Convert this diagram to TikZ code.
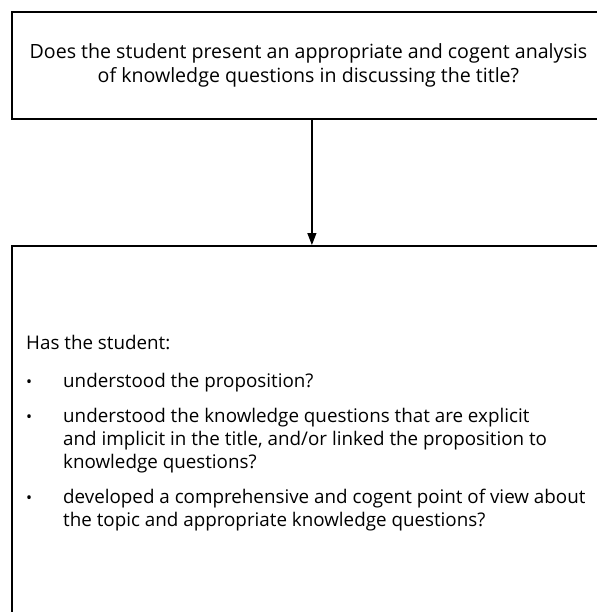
\documentclass[tikz,border=0pt]{standalone}
\usepackage{fontspec}
\setmainfont{Open Sans}
\usetikzlibrary{arrows.meta}
\tikzstyle{box} = [draw, line width=1.8pt, inner sep=0pt, minimum width=600pt]
\tikzstyle{arrow} = [-{Triangle[width=9pt,length=12pt]}, line width=1.2pt]
\tikzstyle{txt} = [font=\fontsize{19.6}{24.5}\selectfont]

\begin{document}
\begin{tikzpicture}[x=1pt,y=1pt]
	\useasboundingbox (0,0) rectangle (596,-612);
	\node[box, txt, align=center, minimum height=107pt, anchor=north west](question) at (11,-11){\hspace*{-7pt}Does the student present an appropriate and cogent analysis\\\hspace*{-7pt}of knowledge questions in discussing the title?};
	\node[box, minimum height=380pt, anchor=north west](criteria) at (11,-245){};
	\draw[arrow](question) -- (criteria);

	\node[inner sep=0pt, anchor=north west](points) at (26,-333){%
		\fontsize{18.8}{23}\selectfont
		\begin{tabular}{@{}p{37pt}@{}l@{}}
		\multicolumn{2}{@{}l@{}}{Has the student:}\\[15pt]
		\scalebox{0.85}{\textbullet} & understood the proposition?\\[12pt]
		\scalebox{0.85}{\textbullet} & understood the knowledge questions that are explicit\\
		 & and implicit in the title, and/or linked the proposition to\\
		 & knowledge questions?\\[12pt]
		\scalebox{0.85}{\textbullet} & developed a comprehensive and cogent point of view about\\
		 & the topic and appropriate knowledge questions?
		\end{tabular}};
\end{tikzpicture}
\end{document}
